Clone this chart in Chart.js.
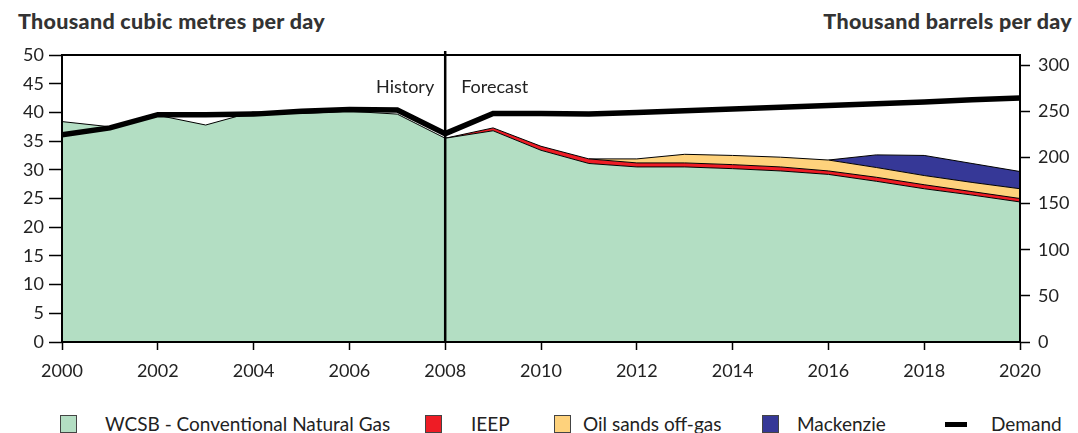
<!DOCTYPE html>
<html>
<head>
<meta charset="utf-8">
<script src="https://cdn.jsdelivr.net/npm/chart.js@4"></script>
<style>
  body { margin: 0; width: 1078px; height: 433px; overflow: hidden; background: #fff; font-family: Lato, sans-serif; position: relative; }
  #wrap { position: absolute; left: 0; top: 0; width: 1078px; height: 390px; }
  .titulo { position: absolute; top: 8px; font-weight: 900; font-size: 21.5px; letter-spacing: 0.3px; color: #333; }
  .leyenda { position: absolute; top: 412px; font-size: 19px; color: #222; white-space: nowrap; }
  .caja { position: absolute; top: 415px; width: 17px; height: 18px; border: 1px solid #444; box-sizing: border-box; }
</style>
</head>
<body>
<div class="titulo" style="left:18px">Thousand cubic metres per day</div>
<div class="titulo" style="right:6px">Thousand barrels per day</div>
<div id="wrap"><canvas id="grafico"></canvas></div>

<div class="caja" style="left:60px;background:#b3dec3"></div>
<div class="leyenda" style="left:105px">WCSB - Conventional Natural Gas</div>
<div class="caja" style="left:425px;background:#ee1c25"></div>
<div class="leyenda" style="left:471px">IEEP</div>
<div class="caja" style="left:554px;background:#fed27c"></div>
<div class="leyenda" style="left:583px">Oil sands off-gas</div>
<div class="caja" style="left:762px;background:#363897"></div>
<div class="leyenda" style="left:797px">Mackenzie</div>
<div style="position:absolute;left:945px;top:422px;width:22px;height:5px;background:#000"></div>
<div class="leyenda" style="left:991px">Demand</div>

<script>
// Datos (miles de m3 por dia)
const anios = [2000, 2001, 2002, 2003, 2004, 2005, 2006, 2007, 2008, 2009, 2010,
  2011, 2012, 2013, 2014, 2015, 2016, 2017, 2018, 2019, 2020];
const wcsb = [38.4, 37.5, 39.5, 37.8, 40.1, 39.8, 40.2, 39.7, 35.5, 36.8, 33.4,
  31.1, 30.5, 30.5, 30.2, 29.8, 29.2, 28.0, 26.7, 25.6, 24.4];
const ieep = [null, null, null, null, null, null, null, null, 0, 0.5, 0.7,
  0.8, 0.7, 0.7, 0.7, 0.7, 0.6, 0.7, 0.7, 0.6, 0.6];
const oilSands = [null, null, null, null, null, null, null, null, null, null, null,
  0, 0.7, 1.5, 1.6, 1.7, 1.9, 1.7, 1.6, 1.6, 1.7];
const mackenzie = [null, null, null, null, null, null, null, null, null, null, null,
  null, null, null, null, null, 0, 2.2, 3.5, 3.3, 3.0];
const demanda = [36.1, 37.3, 39.6, 39.6, 39.7, 40.2, 40.5, 40.4, 36.3, 39.8, 39.8,
  39.7, 40.0, 40.3, 40.6, 40.9, 41.2, 41.5, 41.8, 42.2, 42.5];
const ticksBarriles = [0, 50, 100, 150, 200, 250, 300];
const maxBarriles = 311;

function puntos(valores) {
  const lista = [];
  for (let i = 0; i < anios.length; i++) {
    if (valores[i] !== null) lista.push({ x: anios[i], y: valores[i] });
  }
  return lista;
}

// marco del grafico, linea 2008 y textos History / Forecast
const marcoPlugin = {
  id: "marco",
  afterDatasetsDraw(chart) {
    const ctx = chart.ctx;
    const a = chart.chartArea;
    const xCorte = chart.scales.x.getPixelForValue(2008);
    ctx.save();
    ctx.strokeStyle = "#000";
    ctx.lineWidth = 2;
    ctx.strokeRect(a.left, a.top, a.right - a.left, a.bottom - a.top);
    ctx.lineWidth = 2.5;
    ctx.beginPath();
    ctx.moveTo(xCorte, a.top - 4);
    ctx.lineTo(xCorte, a.bottom);
    ctx.stroke();
    ctx.fillStyle = "#222";
    ctx.font = "18px Lato";
    ctx.textBaseline = "middle";
    ctx.textAlign = "right";
    ctx.fillText("History", xCorte - 11, a.top + 32);
    ctx.textAlign = "left";
    ctx.fillText("Forecast", xCorte + 16, a.top + 32);
    ctx.restore();
  },
};

const fuenteTicks = { family: "Lato", size: 18 };

new Chart(document.getElementById("grafico"), {
  type: "line",
  data: {
    datasets: [
      {
        label: "WCSB - Conventional Natural Gas",
        data: puntos(wcsb),
        backgroundColor: "#b3dec3",
        borderColor: "#000",
        borderWidth: 1,
        fill: "origin",
        stack: "oferta",
      },
      {
        label: "IEEP",
        data: puntos(ieep),
        backgroundColor: "#ee1c25",
        borderColor: "#000",
        borderWidth: 1,
        fill: "-1",
        stack: "oferta",
      },
      {
        label: "Oil sands off-gas",
        data: puntos(oilSands),
        backgroundColor: "#fed27c",
        borderColor: "#000",
        borderWidth: 1,
        fill: "-1",
        stack: "oferta",
      },
      {
        label: "Mackenzie",
        data: puntos(mackenzie),
        backgroundColor: "#363897",
        borderColor: "#000",
        borderWidth: 1,
        fill: "-1",
        stack: "oferta",
      },
      {
        label: "Demand",
        data: puntos(demanda),
        borderColor: "#000",
        borderWidth: 5.5,
        fill: false,
        stack: "demanda",
        order: -1,
      },
    ],
  },
  options: {
    responsive: true,
    maintainAspectRatio: false,
    animation: false,
    elements: { point: { radius: 0 }, line: { tension: 0 } },
    layout: { padding: { top: 55, left: 0, right: 0, bottom: 0 } },
    plugins: { legend: { display: false }, tooltip: { enabled: false } },
    scales: {
      x: {
        type: "linear",
        min: 2000,
        max: 2020,
        border: { display: false },
        grid: { drawOnChartArea: false, drawTicks: true, tickLength: 8, color: "#000", tickWidth: 1.5 },
        ticks: { stepSize: 2, color: "#222", font: fuenteTicks, padding: 10, maxRotation: 0, callback: (v) => String(v) },
        afterFit(scale) { scale.height = 48; },
      },
      y: {
        stacked: true,
        min: 0,
        max: 50,
        border: { display: false },
        grid: { drawOnChartArea: false, drawTicks: true, tickLength: 13, color: "#000", tickWidth: 1.5 },
        ticks: { stepSize: 5, color: "#222", font: fuenteTicks, padding: 5 },
        afterFit(scale) { scale.width = 62; },
      },
      y2: {
        position: "right",
        min: 0,
        max: maxBarriles,
        border: { display: false },
        grid: { drawOnChartArea: false, drawTicks: true, tickLength: 10, color: "#000", tickWidth: 1.5 },
        ticks: { color: "#222", font: fuenteTicks, padding: 8 },
        afterBuildTicks(scale) { scale.ticks = ticksBarriles.map((v) => ({ value: v })); },
        afterFit(scale) { scale.width = 58; },
      },
    },
  },
  plugins: [marcoPlugin],
});
</script>
</body>
</html>
